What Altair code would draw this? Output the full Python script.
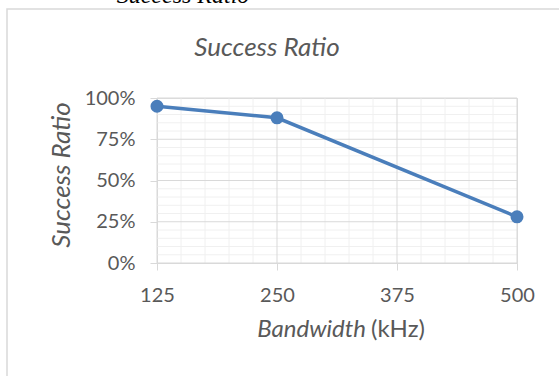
import altair as alt
import pandas as pd

# Measured success ratio per bandwidth setting
bandwidth_khz = [125, 250, 500]
success_ratio = [0.95, 0.88, 0.28]

x_ticks = [125, 250, 375, 500]
y_ticks = [0, 0.25, 0.5, 0.75, 1.0]
x_minor = [v for v in range(125, 501, 25) if v not in x_ticks]
y_minor = [i / 100 for i in range(0, 101, 5) if i % 25 != 0]

FONT = "Lato"
TEXT_GRAY = "#595959"
GRID = "#d9d9d9"
MINOR = "#f0f0f0"
BLUE = "#4A7EBB"

W, H = 360, 165
LEFT, TOP = 157, 98

data = pd.DataFrame({"bw": bandwidth_khz, "ratio": success_ratio})
x_scale = alt.Scale(domain=[125, 500], nice=False, zero=False)
y_scale = alt.Scale(domain=[0, 1], nice=False)

x_axis = alt.Axis(
    values=x_ticks, grid=False, domainColor=GRID, tickColor=GRID,
    tickSize=7, labelFont=FONT, labelFontSize=20, labelColor=TEXT_GRAY,
    labelPadding=15, labelFlush=False, title=None,
)
y_axis = alt.Axis(
    values=y_ticks, format=".0%", grid=False, domainColor=GRID,
    tickColor=GRID, tickSize=7, labelFont=FONT, labelFontSize=20,
    labelColor=TEXT_GRAY, labelPadding=15, title=None,
)

# outer chart frame (transparent so the axes beneath stay visible)
frame = alt.Chart(pd.DataFrame({"k": [0]})).mark_rect(
    fillOpacity=0, stroke=GRID, strokeWidth=1.5
).encode(
    x=alt.value(7 - LEFT), x2=alt.value(600 - LEFT),
    y=alt.value(9 - TOP), y2=alt.value(400 - TOP),
)

def vrules(values, color):
    return alt.Chart(pd.DataFrame({"bw": values})).mark_rule(
        color=color, strokeWidth=1
    ).encode(x=alt.X("bw:Q", scale=x_scale, axis=x_axis))

def hrules(values, color):
    return alt.Chart(pd.DataFrame({"ratio": values})).mark_rule(
        color=color, strokeWidth=1
    ).encode(y=alt.Y("ratio:Q", scale=y_scale, axis=y_axis))

line = alt.Chart(data).mark_line(color=BLUE, strokeWidth=3.5).encode(
    x=alt.X("bw:Q", scale=x_scale, axis=x_axis),
    y=alt.Y("ratio:Q", scale=y_scale, axis=y_axis),
)

points = alt.Chart(data).mark_circle(size=170, color=BLUE, opacity=1).encode(
    x=alt.X("bw:Q", scale=x_scale, axis=x_axis),
    y=alt.Y("ratio:Q", scale=y_scale, axis=y_axis),
)

def label(text, x, y, size, style="normal", angle=0, color=TEXT_GRAY,
          font=FONT, align="center", baseline="middle"):
    return alt.Chart(pd.DataFrame({"t": [text]})).mark_text(
        font=font, fontSize=size, fontStyle=style, color=color,
        angle=angle, align=align, baseline=baseline,
    ).encode(text="t:N", x=alt.value(x - LEFT), y=alt.value(y - TOP))

titles = (
    label("Success Ratio", 183, 3, 24, style="italic", color="#000000",
          font="Liberation Serif", baseline="alphabetic")
    + label("Success Ratio", 267, 56, 26, style="italic", align="center",
            baseline="alphabetic")
    + label("Success Ratio", 62, 175, 26, style="italic", angle=270)
    + label("Bandwidth", 366, 337, 24, style="italic", align="right",
            baseline="alphabetic")
    + label("(kHz)", 371, 337, 24, align="left", baseline="alphabetic")
)

chart = alt.layer(
    frame,
    vrules(x_minor, MINOR), hrules(y_minor, MINOR),
    vrules(x_ticks, GRID), hrules(y_ticks, GRID),
    line, points, titles,
).properties(
    width=W, height=H,
    padding={"left": LEFT, "top": TOP, "right": 559 - LEFT - W, "bottom": 376 - TOP - H},
    autosize=alt.AutoSizeParams(type="none"),
).configure_view(stroke=None).configure(background="white")

chart.save("out.html", embed_options={"renderer": "svg", "actions": False})
